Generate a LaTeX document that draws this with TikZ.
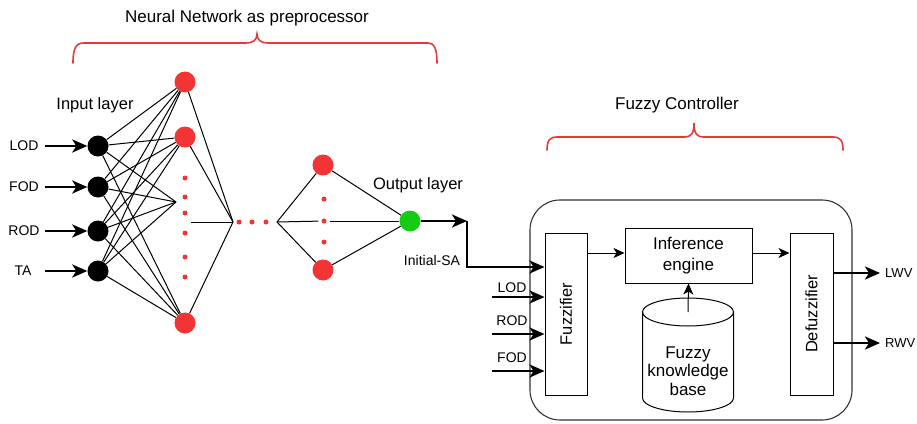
\documentclass[tikz,border=0pt]{standalone}
\usepackage{fontspec}
\setmainfont{Liberation Sans}
\usetikzlibrary{arrows.meta}
\definecolor{nnred}{HTML}{F23434}
\definecolor{nngreen}{HTML}{14CC14}
\definecolor{bracered}{HTML}{E63A3A}
\definecolor{frame}{HTML}{333333}

\begin{document}
\begin{tikzpicture}[x=1pt,y=-1pt,
  neuron/.style={circle, minimum size=21pt, inner sep=0pt},
  inneuron/.style={neuron, fill=black},
  hidneuron/.style={neuron, fill=nnred},
  outneuron/.style={neuron, fill=nngreen},
  rdot/.style={circle, fill=nnred, minimum size=5pt, inner sep=0pt},
  gapdot/.style={circle, minimum size=11pt, inner sep=0pt},
  link/.style={line width=1pt},
  bigarrow/.style={line width=2.6pt, -{Stealth[length=15pt,width=13pt,inset=4pt]}},
  smallarrow/.style={line width=1pt, -{Stealth[length=11pt,width=10pt,inset=3pt]}},
  block/.style={draw, line width=1pt, inner sep=0pt},
  brace/.style={draw=bracered, line width=1.6pt, line cap=round},
  lbl/.style={font=\fontsize{14}{16}\selectfont},
  outlbl/.style={font=\fontsize{13}{15}\selectfont, inner sep=0pt, anchor=west},
  layerlbl/.style={font=\fontsize{16.5}{19}\selectfont},
  title/.style={font=\fontsize{17}{20}\selectfont},
  boxtext/.style={font=\fontsize{17}{20.5}\selectfont, align=center},
]
\useasboundingbox (0,0) rectangle (917,423);

% ---------- titles and braces ----------
\node[title] (nntitle) at (247,18) {Neural Network as preprocessor};
\draw[brace] (73,63) .. controls (73,48) and (76,43) .. (84,43) -- (246,43)
  .. controls (253,43) and (257,40) .. (257,34)
  .. controls (257,40) and (261,43) .. (268,43) -- (428,43)
  .. controls (434,43) and (437,48) .. (437,63);

\node[title] (fctitle) at (677,105) {Fuzzy Controller};
\draw[brace] (547,150) .. controls (547,140) and (550,137) .. (557,137) -- (684,137)
  .. controls (691,137) and (694,134) .. (694,123)
  .. controls (694,134) and (697,137) .. (704,137) -- (833,137)
  .. controls (840,137) and (843,140) .. (843,150);

% ---------- neural network ----------
\node[layerlbl] (inlbl) at (95,105) {Input layer};
\node[layerlbl] (outlbl) at (418,185) {Output layer};

\node[inneuron] (i1) at (98,146) {};
\node[inneuron] (i2) at (98,187) {};
\node[inneuron] (i3) at (98,231) {};
\node[inneuron] (i4) at (98,271) {};

\node[lbl] (t1) at (24,146) {LOD};
\node[lbl] (t2) at (24,187) {FOD};
\node[lbl] (t3) at (24,231) {ROD};
\node[lbl] (t4) at (23,271) {TA};
\coordinate (a1) at (45,146);
\coordinate (a2) at (45,187);
\coordinate (a3) at (45,231);
\coordinate (a4) at (45,271);
\foreach \k in {1,...,4}{\draw[bigarrow] (a\k) -- (i\k);}

\node[hidneuron] (h1) at (185,82) {};
\node[hidneuron] (h2) at (185,137) {};
\node[hidneuron] (h3) at (185,323) {};
\foreach \yy in {178,197,213,233,257,277}{\node[rdot] at (185,\yy) {};}
\coordinate (hc) at (176,202);

\foreach \k in {1,...,4}{
  \draw[link] (i\k) -- (h1);
  \draw[link] (i\k) -- (h2);
  \draw[link] (i\k) -- (hc);
  \draw[link] (i\k) -- (h3);
}

\coordinate (m1) at (191,222);
\coordinate (m2) at (233,222);
\draw[link] (m1) -- (m2);
\draw[link] (h1) -- (m2);
\draw[link] (h2) -- (m2);
\draw[link] (h3) -- (m2);

\node[rdot] (e1) at (239,222) {};
\node[rdot] (e2) at (252,222) {};
\node[rdot] (e3) at (266,222) {};

\coordinate (m3) at (277,222);
\node[hidneuron] (g1) at (323,165) {};
\node[hidneuron] (g2) at (323,270) {};
\node[rdot] (d1) at (324,199) {};
\node[gapdot] (d2) at (324,221) {};
\fill[nnred] (d2) circle (2.5);
\node[rdot] (d3) at (324,242) {};

\node[outneuron] (o) at (410,221) {};

\draw[link] (m3) -- (g1);
\draw[link] (m3) -- (g2);
\draw[link] (m3) -- (d2);
\draw[link] (d2) -- (o);
\draw[link] (g1) -- (o);
\draw[link] (g2) -- (o);

\coordinate (oa) at (467,221);
\draw[bigarrow] (o) -- (oa);
\node[lbl] (isa) at (432,260) {Initial-SA};

% ---------- fuzzy controller ----------
\draw[frame, line width=1.1pt, rounded corners=30pt] (530,200) rectangle (852,420);

\node[block, minimum width=42pt, minimum height=162pt] (fz) at (566,314) {};
\node[boxtext, font=\fontsize{16.5}{19}\selectfont, rotate=90] (fzt) at (fz) {Fuzzifier};
\node[block, minimum width=43pt, minimum height=162pt] (dfz) at (811.5,314) {};
\node[boxtext, font=\fontsize{16.5}{19}\selectfont, rotate=90] (dfzt) at (dfz) {Defuzzifier};
\node[block, minimum width=127pt, minimum height=55pt, boxtext] (inf) at (688.5,255.5) {Inference\\engine};

% knowledge base cylinder
\draw[line width=1pt] (688,312) ellipse [x radius=45.5, y radius=14];
\draw[line width=1pt] (642.5,312) -- (642.5,398)
  .. controls (642.5,405.7) and (662.9,412) .. (688,412)
  .. controls (713.1,412) and (733.5,405.7) .. (733.5,398) -- (733.5,312);
\node[boxtext] (kb) at (688,371) {Fuzzy\\[-2pt]knowledge\\[-2pt]base};
\coordinate (kbtop) at (688,312);

\draw[bigarrow] (oa) |- (fz.west |- 0,267);

\coordinate (f1) at (492,297);
\coordinate (f2) at (492,334);
\coordinate (f3) at (492,371);
\draw[bigarrow] (f1) -- (f1 -| fz.west);
\draw[bigarrow] (f2) -- (f2 -| fz.west);
\draw[bigarrow] (f3) -- (f3 -| fz.west);
\node[lbl] (l1) at (512,288) {LOD};
\node[lbl] (l2) at (512,321) {ROD};
\node[lbl] (l3) at (512,358) {FOD};

\draw[smallarrow] (fz.east |- 0,253) -- (inf.west |- 0,253);
\draw[smallarrow] (inf.east |- 0,253) -- (dfz.west |- 0,253);
\draw[smallarrow] (kbtop) -- (inf.south);

% controller outputs
\coordinate (lwvtip) at (880,273);
\coordinate (rwvtip) at (880,343);
\node[outlbl] (lwv) at (885,273) {LWV};
\node[outlbl] (rwv) at (885,343) {RWV};
\draw[bigarrow] (dfz.east |- lwvtip) -- (lwvtip);
\draw[bigarrow] (dfz.east |- rwvtip) -- (rwvtip);
\end{tikzpicture}
\end{document}
